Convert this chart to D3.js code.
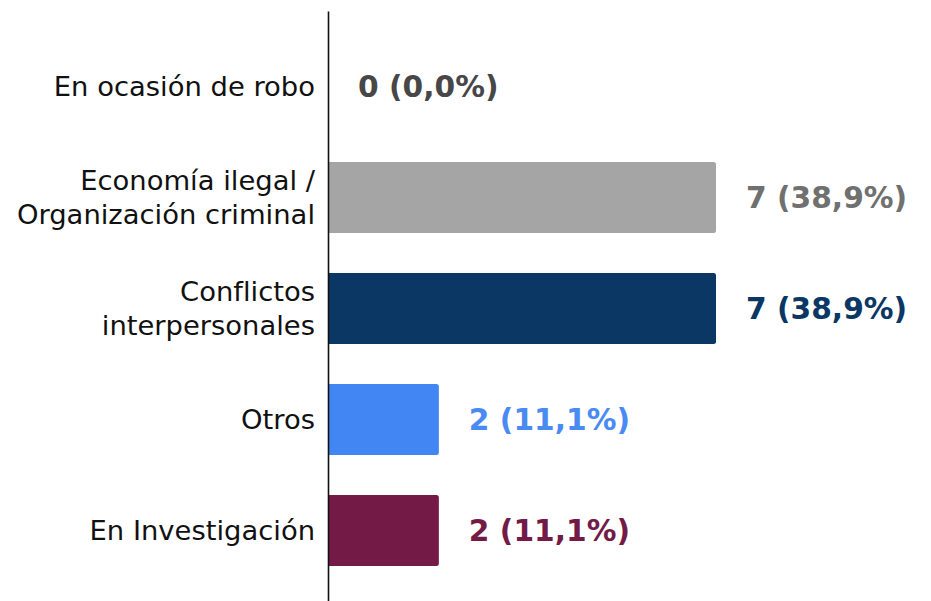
<!DOCTYPE html>
<html lang="es">
<head>
    <meta charset="UTF-8">
    <script src="https://cdn.jsdelivr.net/npm/d3@7"></script>
    <title>Motivos</title>
    <style>
        body { margin: 0; background: #fff; }
        text { font-family: "DejaVu Sans", Verdana, sans-serif; }
    </style>
</head>
<body>
    <svg width="931" height="601"></svg>

    <script>
        // datos
        const categories = [
            ['En ocasión de robo'],
            ['Economía ilegal /', 'Organización criminal'],
            ['Conflictos', 'interpersonales'],
            ['Otros'],
            ['En Investigación']
        ]
        const values = [0, 7, 7, 2, 2]
        const barColors = ['#a5a5a5', '#a5a5a5', '#0a3763', '#4286f4', '#731b46']
        const labelColors = ['#474747', '#707070', '#0a3763', '#4a8af3', '#731b46']

        const svg = d3.select('svg')
        const total = d3.sum(values)
        const keys = d3.range(values.length)

        const margin = { left: 328, top: 11, bottom: 606 }

        const yScale = d3.scaleBand()
            .domain(keys)
            .range([margin.top, margin.bottom])
            .paddingInner(0.36)
            .paddingOuter(0.36)

        const xScale = d3.scaleLinear()
            .domain([0, 7])
            .range([margin.left, 716])

        // barras
        svg.append('g')
            .selectAll('path')
            .data(keys.filter(i => values[i] > 0))
            .enter()
            .append('path')
            .attr('fill', i => barColors[i])
            .attr('d', i => {
                const x0 = xScale(0), x1 = xScale(values[i])
                const y0 = yScale(i), h = yScale.bandwidth(), r = 2.5
                return `M${x0},${y0}H${x1 - r}Q${x1},${y0} ${x1},${y0 + r}` +
                    `V${y0 + h - r}Q${x1},${y0 + h} ${x1 - r},${y0 + h}H${x0}Z`
            })

        // eje
        const yAxis = d3.axisLeft(yScale).tickSize(0).tickPadding(13).tickFormat('')
        const axisG = svg.append('g')
            .attr('transform', `translate(${margin.left}, 0)`)
            .call(yAxis)
        axisG.select('.domain')
            .attr('stroke', '#111')
            .attr('stroke-width', 1.6)

        axisG.selectAll('.tick text')
            .attr('fill', '#111')
            .attr('font-size', 27.4)
            .attr('dy', null)
            .each(function(i) {
                const lines = categories[i]
                const t = d3.select(this)
                const lh = 34
                lines.forEach((l, k) => {
                    t.append('tspan')
                        .attr('x', -13)
                        .attr('y', (k - (lines.length - 1) / 2) * lh)
                        .attr('dy', '0.35em')
                        .text(l)
                })
            })

        // etiquetas de valor
        const pct = d3.format('.1f')
        svg.append('g')
            .selectAll('text')
            .data(keys)
            .enter()
            .append('text')
            .attr('x', i => xScale(values[i]) + 30)
            .attr('y', i => yScale(i) + yScale.bandwidth() / 2)
            .attr('dy', '0.35em')
            .attr('font-size', 29.7)
            .attr('font-weight', 'bold')
            .attr('fill', i => labelColors[i])
            .text(i => `${values[i]} (${pct(values[i] / total * 100).replace('.', ',')}%)`)
    </script>
</body>
</html>
